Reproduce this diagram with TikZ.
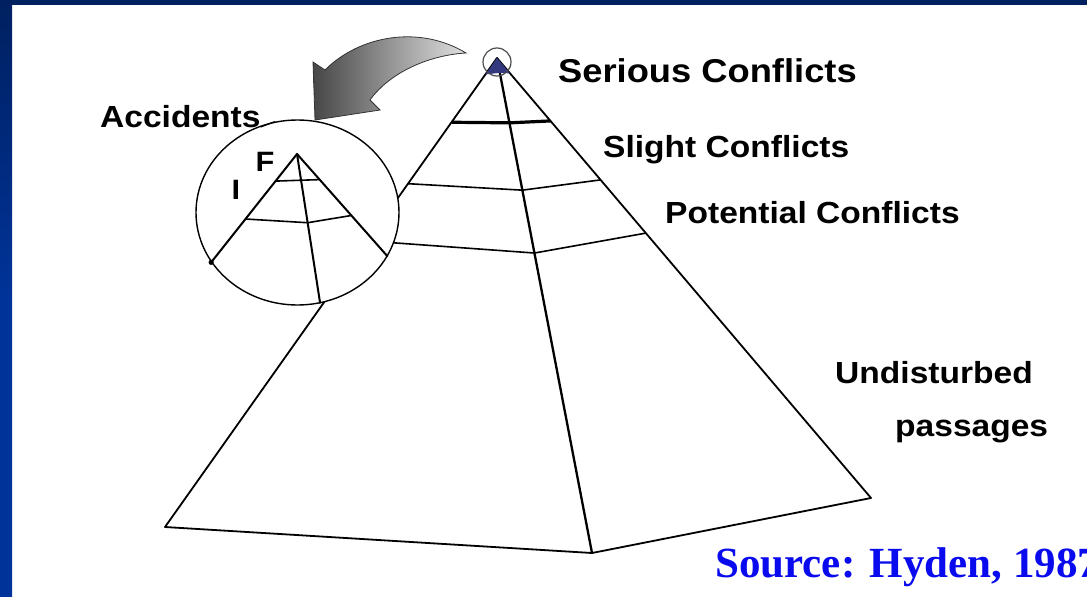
\documentclass[tikz,border=0pt]{standalone}
\usepackage{fontspec}
\usetikzlibrary{positioning,calc,shapes.geometric}
\newfontfamily\lblfont[FakeStretch=1.1]{Liberation Sans}
\newfontfamily\srcfont{Liberation Serif}
\definecolor{frameNavy}{HTML}{002060}
\definecolor{frameBlue}{HTML}{003399}
\definecolor{srcBlue}{HTML}{0A0AEE}
\definecolor{apexBlue}{HTML}{34397F}

\begin{document}
\begin{tikzpicture}[x=1pt,y=-1pt,
  lbl/.style={font=\lblfont\bfseries\fontsize{30.5}{36}\selectfont,anchor=base west,inner sep=0pt},
  edge/.style={line width=1.8pt,line join=round},
  band/.style={line width=1.6pt,line join=round}]
  \useasboundingbox (0,0) rectangle (1087,597);
  \fill[white] (0,0) rectangle (1087,597);
  \fill[frameNavy] (0,0) rectangle (1087,5);
  \shade[top color=frameNavy,bottom color=frameBlue,middle color=frameBlue] (0,0) rectangle (12,597);

  \coordinate (apex) at (497,58);
  \coordinate (left) at (165,527);
  \coordinate (front) at (592,553);
  \coordinate (right) at (871,498);
  \draw[edge] (apex) -- (left) -- (front) -- (right) -- cycle;
  \draw[edge,line width=2.3pt] (apex) -- (front);
  \fill[apexBlue] (apex) -- ($(apex)!0.035!(left)$) -- ($(apex)!0.03!(front)$) -- ($(apex)!0.035!(right)$) -- cycle;
  \node[circle,draw=black!70,line width=1.2pt,minimum size=28pt,inner sep=0pt] (tip) at (497,62) {};
  \draw[line width=3.2pt] ($(apex)!0.137!(left)$) -- ($(apex)!0.131!(front)$) -- ($(apex)!0.143!(right)$);
  \draw[band] ($(apex)!0.268!(left)$) -- ($(apex)!0.267!(front)$) -- ($(apex)!0.277!(right)$);
  \draw[band] ($(apex)!0.39!(left)$) -- ($(apex)!0.394!(front)$) -- ($(apex)!0.398!(right)$);

  \node[ellipse,draw,fill=white,line width=1.4pt,minimum width=203pt,minimum height=185pt,inner sep=0pt] (zoom) at (297.5,212.5) {};
  \coordinate (iapex) at (297,154);
  \draw[edge,line width=2pt] (zoom.210) -- (iapex) -- (zoom.334);
  \draw[edge,line width=2pt] (iapex) -- (zoom.284);
  \fill (zoom.210) circle[radius=2.6];
  \draw[band] ($(iapex)!0.25!(zoom.210)$) -- ($(iapex)!0.25!(zoom.334)$);
  \draw[band] ($(iapex)!0.6!(zoom.210)$) -- ($(iapex)!0.46!(zoom.284)$) -- ($(iapex)!0.6!(zoom.334)$);
  \node[lbl,anchor=center,font=\lblfont\bfseries\fontsize{28}{32}\selectfont] (fatal) at (265,162) {F};
  \node[lbl,anchor=center,font=\lblfont\bfseries\fontsize{28}{32}\selectfont] (injury) at (236,190) {I};

  \shadedraw[left color=black!72,right color=black!12,draw=black!80,line width=0.8pt]
    (466,53) .. controls (420,25) and (360,35) .. (325,70) -- (313,62) -- (315,120) -- (380,110) -- (370,100)
    .. controls (390,72) and (430,55) .. (466,53) -- cycle;

  \node[lbl,font=\lblfont\bfseries\fontsize{33}{38}\selectfont] (serious) at (558,82) {Serious Conflicts};
  \node[lbl] (slight) at (603,157) {Slight Conflicts};
  \node[lbl] (potential) at (665,223) {Potential Conflicts};
  \node[lbl] (undist) at (835,383) {Undisturbed};
  \node[lbl] (passages) at (895,436) {passages};
  \node[lbl] (acc) at (100,127) {Accidents};
  \draw[line width=1.2pt] (acc.base east) -- (zoom.104);

  \node[font=\srcfont\bfseries\fontsize{43}{48}\selectfont,text=srcBlue,anchor=base west,inner sep=0pt] (src) at (715,577) {Source: Hyden, 1987};
\end{tikzpicture}
\end{document}
